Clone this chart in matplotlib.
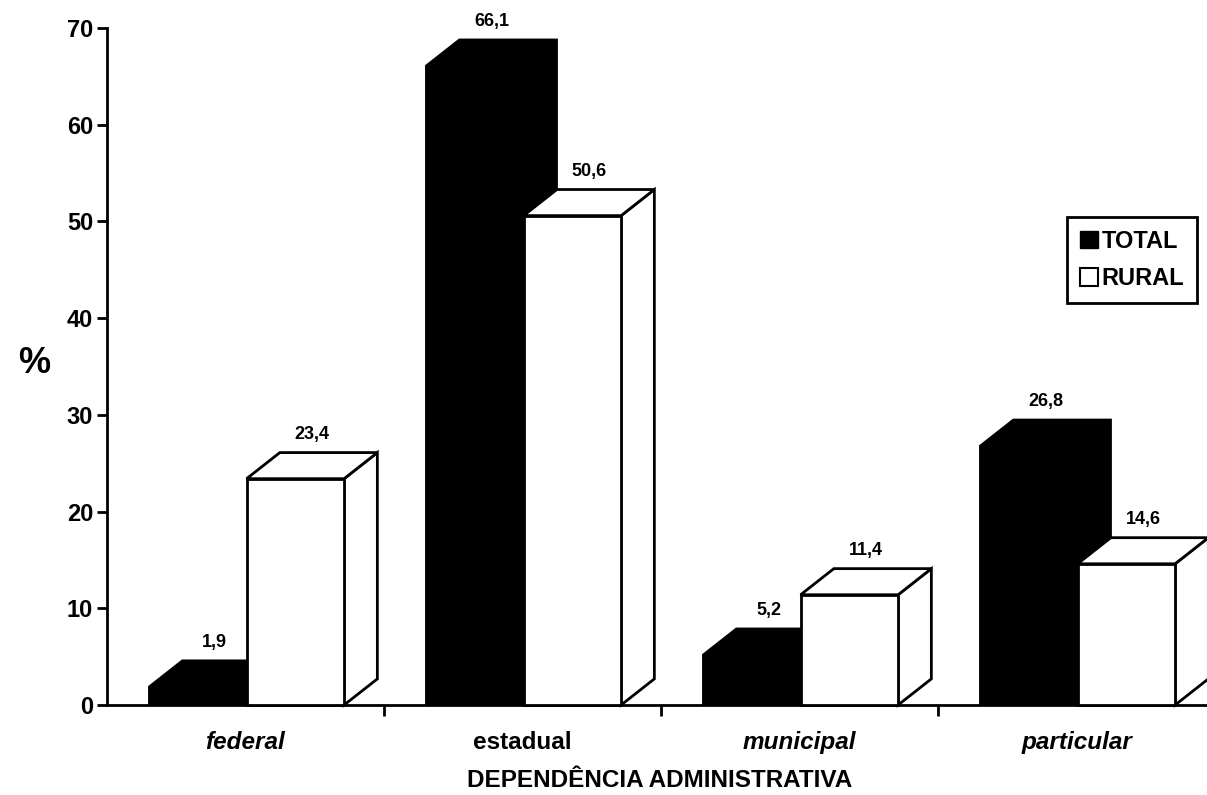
import matplotlib.pyplot as plt
from matplotlib.patches import Polygon, Patch

plt.rcParams['font.family'] = ['Liberation Sans', 'DejaVu Sans']
plt.rcParams['font.weight'] = 'bold'

categories = ["federal", "estadual", "municipal", "particular"]
total = [1.9, 66.1, 5.2, 26.8]
rural = [23.4, 50.6, 11.4, 14.6]
total_lbl = ["1,9", "66,1", "5,2", "26,8"]
rural_lbl = ["23,4", "50,6", "11,4", "14,6"]

fig = plt.figure(figsize=(12.07, 7.95), dpi=100)
ax = fig.add_axes([107 / 1207, 1 - 705 / 795, 1100 / 1207, 677 / 795])

# bar geometry in data units (1 category = 1 unit)
off = 0.152
w = 0.352
dx = 0.12
dy = 2.7


def black_bar(x, h):
    pts = [(x, 0), (x, h), (x + dx, h + dy), (x + w + dx, h + dy),
           (x + w + dx, dy), (x + w, 0)]
    ax.add_patch(Polygon(pts, closed=True, fc='black', ec='black', lw=1.5,
                         zorder=3, clip_on=False))


def white_bar(x, h):
    front = [(x, 0), (x, h), (x + w, h), (x + w, 0)]
    top = [(x, h), (x + dx, h + dy), (x + w + dx, h + dy), (x + w, h)]
    side = [(x + w, 0), (x + w + dx, dy), (x + w + dx, h + dy), (x + w, h)]
    for p in (side, top, front):
        ax.add_patch(Polygon(p, closed=True, fc='white', ec='black', lw=2,
                             zorder=4, clip_on=False, joinstyle='miter'))


for i in range(len(categories)):
    xt = i + off
    xr = i + off + w
    black_bar(xt, total[i])
    white_bar(xr, rural[i])
    ax.annotate(total_lbl[i], (xt + w / 2 + dx * 0.5, total[i] + dy),
                xytext=(0, 7), textcoords='offset points', ha='center',
                va='bottom', fontsize=13, fontweight='bold', zorder=6)
    ax.annotate(rural_lbl[i], (xr + w / 2 + dx * 0.5, rural[i] + dy),
                xytext=(0, 7), textcoords='offset points', ha='center',
                va='bottom', fontsize=13, fontweight='bold', zorder=6)

ax.set_xlim(0, 1100 / 277)
ax.set_ylim(0, 70)
ax.spines['top'].set_visible(False)
ax.spines['right'].set_visible(False)
ax.spines['left'].set_linewidth(2)
ax.spines['bottom'].set_linewidth(2)

ax.set_yticks(range(0, 71, 10))
ax.tick_params(axis='y', direction='out', length=7, width=2, labelsize=17, pad=3)
ax.set_xticks([1, 2, 3])
ax.set_xticklabels([])
ax.tick_params(axis='x', which='major', direction='out', length=8, width=2)
ax.set_xticks([i + 0.5 for i in range(len(categories))], minor=True)
ax.set_xticklabels(categories, minor=True, fontsize=17.5, fontweight='bold')
ax.tick_params(axis='x', which='minor', length=0, pad=19)
for t in ax.get_xticklabels(minor=True):
    if t.get_text() != "estadual":
        t.set_fontstyle('italic')

ax.set_xlabel("DEPENDÊNCIA ADMINISTRATIVA", fontsize=17.5, fontweight='bold')
ax.xaxis.set_label_coords(0.502, -0.095)
ax.set_ylabel("%", rotation=0, fontsize=26, fontweight='bold', va='center')
ax.yaxis.set_label_coords(-0.066, 0.504)

handles = [Patch(fc='black', ec='black', label='TOTAL'),
           Patch(fc='white', ec='black', lw=1.5, label='RURAL')]
leg = fig.legend(handles=handles, loc='upper right',
                 bbox_to_anchor=(1197 / 1207, 1 - 217 / 795), borderaxespad=0,
                 fancybox=False, framealpha=1, edgecolor='black',
                 handlelength=0.75, handleheight=0.75, handletextpad=0.15,
                 borderpad=0.55, labelspacing=0.6, prop={'size': 17, 'weight': 'bold'})
leg.get_frame().set_linewidth(2)

fig.savefig("out.png", dpi=100)
